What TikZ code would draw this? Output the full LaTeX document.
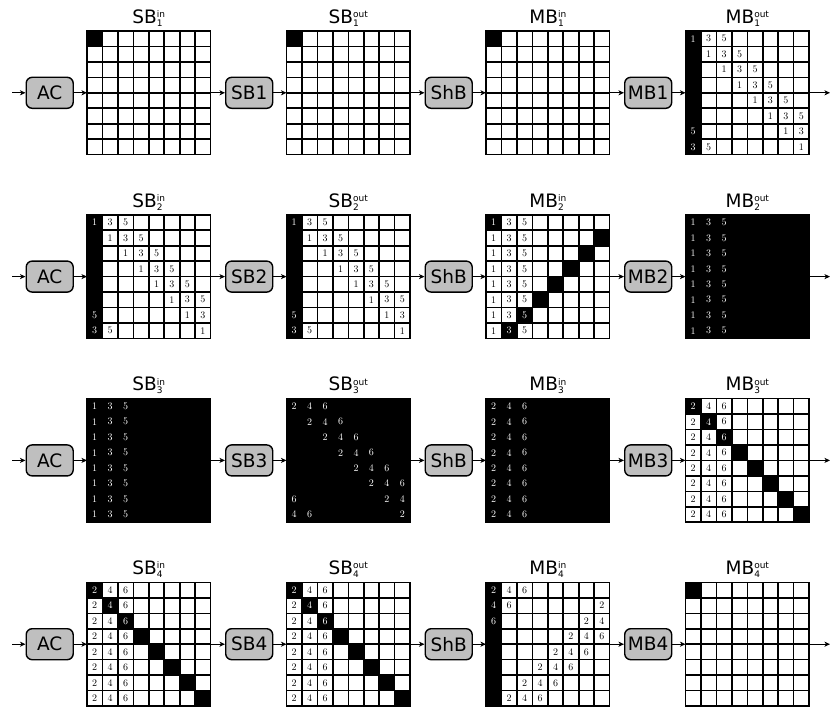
\documentclass[tikz,border=0pt]{standalone}
\usepackage{fontspec}
\newfontfamily\lblfont{DejaVu Sans}
\usetikzlibrary{arrows.meta}
\def\cellsz{15.45}
\tikzset{
 proc/.style={draw=black, line width=1.4pt, rounded corners=6pt, fill=black!25,
   minimum width=47pt, minimum height=31pt, inner sep=0pt,
   font=\lblfont\fontsize{18.5}{18.5}\selectfont},
 gridbox/.style={minimum width=123.6pt, minimum height=123.6pt, inner sep=0pt, outer sep=0pt, draw=none},
 gline/.style={line width=1.6pt, line cap=rect},
 flow/.style={line width=0.9pt, -{Stealth[length=5.5pt,width=5pt,inset=1.5pt]}},
 ttl/.style={font=\lblfont\fontsize{18.5}{18.5}\selectfont, anchor=base, inner sep=0pt},
 dig/.style={font=\fontsize{10}{10}\selectfont, inner sep=0pt},
}
\newcommand\ttlx[3]{#1{\fontsize{9}{9}\selectfont\rlap{\raisebox{-3pt}{#3}}\raisebox{5.8pt}{#2}}}
\newcommand\gridblacks[1]{%
 \ifcase#1
  \fill[black] (0,0) rectangle (\cellsz,\cellsz);
 \or
  \fill[black] (0,0) rectangle (\cellsz,8*\cellsz);
 \or
  \foreach \r in {0,...,7}{\pgfmathtruncatemacro\cc{mod(8-\r,8)}\fill[black] (\cc*\cellsz,\r*\cellsz) rectangle ++(\cellsz,\cellsz);}
 \or
  \fill[black] (0,0) rectangle (8*\cellsz,8*\cellsz);
 \or
  \foreach \r in {0,...,7}{\fill[black] (\r*\cellsz,\r*\cellsz) rectangle ++(\cellsz,\cellsz);}
 \fi}
\newcommand\gridnums[4]{%
 \foreach \r in {0,...,7}{%
  \foreach \d [count=\j from 0] in {#3}{%
   \pgfmathtruncatemacro\cc{#2==0 ? \j : (#2==1 ? mod(\r+\j,8) : mod(8-\r+\j,8))}%
   \pgfmathtruncatemacro\ww{#4==0 ? (\cc==0) : (#4==1 ? (\cc==mod(8-\r,8)) : (#4==2 ? 1 : (\cc==\r)))}%
   \ifnum\ww=1 \def\tcol{white}\else\def\tcol{black}\fi
   \node[dig,text=\tcol] (#1-\r-\cc) at ({(\cc+0.5)*\cellsz},{(\r+0.5)*\cellsz}) {\d};
  }}}
\newcommand\drawgrid[8]{%
 \pgfmathsetmacro\gx{87+199.5*#2}%
 \pgfmathsetmacro\gy{31+183.8*#3}%
 \begin{scope}[shift={(\gx,\gy)}]
  \node[gridbox] (#1) at (4*\cellsz,4*\cellsz) {};
  \node[ttl] (#1t) at (4*\cellsz,-7.7) {#8};
  \fill[white] (0,0) rectangle (8*\cellsz,8*\cellsz);
  \gridblacks{#4}
  \foreach \i in {0,...,8}{\draw[gline] (\i*\cellsz,0) -- (\i*\cellsz,8*\cellsz); \draw[gline] (0,\i*\cellsz) -- (8*\cellsz,\i*\cellsz);}
  \ifnum#5>-1 \gridnums{#1}{#5}{#6}{#7}\fi
 \end{scope}}
\begin{document}
\begin{tikzpicture}[x=1pt,y=-1pt]
\useasboundingbox (0,0) rectangle (830,709);
% row 1
\drawgrid{g00}{0}{0}{0}{-1}{}{0}{\ttlx{SB}{in}{1}}
\drawgrid{g01}{1}{0}{0}{-1}{}{0}{\ttlx{SB}{out}{1}}
\drawgrid{g02}{2}{0}{0}{-1}{}{0}{\ttlx{MB}{in}{1}}
\drawgrid{g03}{3}{0}{1}{1}{1,3,5}{0}{\ttlx{MB}{out}{1}}
% row 2
\drawgrid{g10}{0}{1}{1}{1}{1,3,5}{0}{\ttlx{SB}{in}{2}}
\drawgrid{g11}{1}{1}{1}{1}{1,3,5}{0}{\ttlx{SB}{out}{2}}
\drawgrid{g12}{2}{1}{2}{0}{1,3,5}{1}{\ttlx{MB}{in}{2}}
\drawgrid{g13}{3}{1}{3}{0}{1,3,5}{2}{\ttlx{MB}{out}{2}}
% row 3
\drawgrid{g20}{0}{2}{3}{0}{1,3,5}{2}{\ttlx{SB}{in}{3}}
\drawgrid{g21}{1}{2}{3}{1}{2,4,6}{2}{\ttlx{SB}{out}{3}}
\drawgrid{g22}{2}{2}{3}{0}{2,4,6}{2}{\ttlx{MB}{in}{3}}
\drawgrid{g23}{3}{2}{4}{0}{2,4,6}{3}{\ttlx{MB}{out}{3}}
% row 4
\drawgrid{g30}{0}{3}{4}{0}{2,4,6}{3}{\ttlx{SB}{in}{4}}
\drawgrid{g31}{1}{3}{4}{0}{2,4,6}{3}{\ttlx{SB}{out}{4}}
\drawgrid{g32}{2}{3}{1}{2}{2,4,6}{0}{\ttlx{MB}{in}{4}}
\drawgrid{g33}{3}{3}{0}{-1}{}{0}{\ttlx{MB}{out}{4}}
% boxes and connectors
\foreach \r in {0,1,2,3}{
 \pgfmathsetmacro\cy{31+183.8*\r+4*\cellsz}
 \pgfmathtruncatemacro\rn{\r+1}
 \node[proc] (b\r0) at (87-37.3,\cy) {AC};
 \node[proc] (b\r1) at (87+199.5-37.3,\cy) {SB\rn};
 \node[proc] (b\r2) at (87+399-37.3,\cy) {ShB};
 \node[proc] (b\r3) at (87+598.5-37.3,\cy) {MB\rn};
 \coordinate (in\r) at (12,\cy);
 \coordinate (out\r) at (830,\cy);
 \draw[flow] (in\r) -- (b\r0);
 \draw[flow] (b\r0) -- (g\r0.west);
 \draw[flow] (g\r0.east) -- (b\r1);
 \draw[flow] (b\r1) -- (g\r1.west);
 \draw[flow] (g\r1.east) -- (b\r2);
 \draw[flow] (b\r2) -- (g\r2.west);
 \draw[flow] (g\r2.east) -- (b\r3);
 \draw[flow] (b\r3) -- (g\r3.west);
 \draw[flow] (g\r3.east) -- (out\r);
}
\end{tikzpicture}
\end{document}
